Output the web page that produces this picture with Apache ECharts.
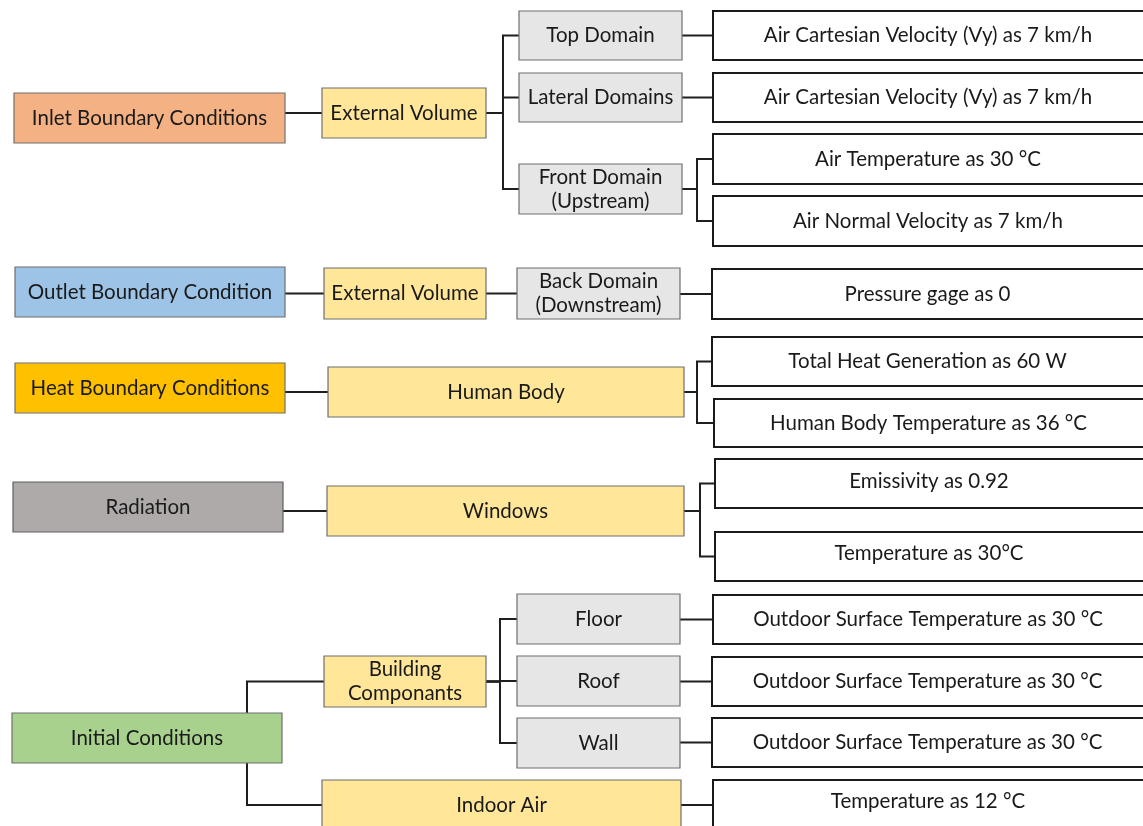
<!DOCTYPE html>
<html>
<head>
<meta charset="utf-8">
<title>Boundary conditions</title>
<script src="https://cdn.jsdelivr.net/npm/echarts@6/dist/echarts.min.js"></script>
<style>
  html, body { margin: 0; padding: 0; background: #fff; }
  #main { width: 1143px; height: 826px; }
</style>
</head>
<body>
<div id="main"></div>
<script>
// node texts, parent index and kind (the tree itself)
var nodeNames = [
  'Inlet Boundary Conditions', 'External Volume',
  'Top Domain', 'Lateral Domains', 'Front Domain\n(Upstream)',
  'Air Cartesian Velocity (Vy) as 7 km/h', 'Air Cartesian Velocity (Vy) as 7 km/h',
  'Air Temperature as 30 °C', 'Air Normal Velocity as 7 km/h',
  'Outlet Boundary Condition', 'External Volume', 'Back Domain\n(Downstream)', 'Pressure gage as 0',
  'Heat Boundary Conditions', 'Human Body',
  'Total Heat Generation as 60 W', 'Human Body Temperature as 36 °C',
  'Radiation', 'Windows', 'Emissivity as 0.92', 'Temperature as 30°C',
  'Initial Conditions', 'Building\nComponants', 'Floor', 'Roof', 'Wall',
  'Outdoor Surface Temperature as 30 °C', 'Outdoor Surface Temperature as 30 °C',
  'Outdoor Surface Temperature as 30 °C',
  'Indoor Air', 'Temperature as 12 °C'
];
var nodeParents = [
  -1, 0, 1, 1, 1, 2, 3, 4, 4,
  -1, 9, 10, 11,
  -1, 13, 14, 14,
  -1, 17, 18, 18,
  -1, 21, 22, 22, 22, 23, 24, 25,
  21, 29
];
var nodeKinds = [
  'inlet', 'volume', 'domain', 'domain', 'domain', 'value', 'value', 'value', 'value',
  'outlet', 'volume', 'domain', 'value',
  'heat', 'volume', 'value', 'value',
  'radiation', 'volume', 'value', 'value',
  'initial', 'volume', 'domain', 'domain', 'domain', 'value', 'value', 'value',
  'volume', 'value'
];

// layout: box corners [x0, y0, x1, y1] in page units
var boxes = [
  [14, 93, 285, 143], [322, 88, 486, 138],
  [519, 11, 682, 60], [519, 73, 682, 122], [519, 164, 682, 214],
  [713, 11, 1146, 60], [713, 73, 1146, 122], [713, 134, 1146, 184], [713, 196, 1146, 246],
  [15, 267, 285, 317], [324, 268, 486, 319], [517, 268, 680, 319], [712, 269, 1146, 319],
  [15, 363, 285, 413], [328, 367, 684, 417], [712, 337, 1146, 386], [714, 399, 1146, 447],
  [13, 482, 283, 532], [327, 486, 684, 536], [715, 459, 1146, 508], [715, 532, 1146, 581],
  [12, 713, 282, 763], [324, 656, 486, 707],
  [517, 594, 680, 644], [517, 656, 680, 706], [517, 718, 680, 768],
  [713, 595, 1146, 644], [712, 657, 1146, 706], [712, 718, 1146, 767],
  [322, 780, 681, 830], [713, 780, 1146, 830]
];
// x of the vertical connector for parents with several children
var junctionX = { 1: 503, 4: 697, 14: 697, 18: 700, 21: 247, 22: 500 };
// small vertical text nudges where the source text sits off-centre
var textShift = { 19: -2, 20: -3, 30: -4 };

var kindStyle = {
  inlet:     { fill: '#F4B183', stroke: '#6f6f6f', lineWidth: 1.2 },
  outlet:    { fill: '#9DC3E6', stroke: '#6f6f6f', lineWidth: 1.2 },
  heat:      { fill: '#FFC000', stroke: '#6f6f6f', lineWidth: 1.2 },
  radiation: { fill: '#AEAAAA', stroke: '#5f5f5f', lineWidth: 1.2 },
  initial:   { fill: '#A9D18E', stroke: '#6f6f6f', lineWidth: 1.2 },
  volume:    { fill: '#FFE699', stroke: '#6f6f6f', lineWidth: 1.2 },
  domain:    { fill: '#E7E6E6', stroke: '#6f6f6f', lineWidth: 1.2 },
  value:     { fill: '#FFFFFF', stroke: '#1a1a1a', lineWidth: 2 }
};

function childCount(p) {
  var n = 0;
  nodeParents.forEach(function (q) { if (q === p) n++; });
  return n;
}

var boxData = nodeNames.map(function (name, i) {
  return { value: boxes[i].concat([i]), name: name };
});
var linkData = [];
nodeParents.forEach(function (p, i) {
  if (p >= 0) linkData.push({ value: [p, i] });
});

function renderLink(params, api) {
  var p = api.value(0), c = api.value(1);
  var pb = boxes[p], cb = boxes[c];
  var cy = (cb[1] + cb[3]) / 2;
  var pts;
  if (childCount(p) === 1) {
    pts = [[pb[2], cy], [cb[0], cy]];
  } else {
    var py = (pb[1] + pb[3]) / 2;
    var jx = junctionX[p];
    pts = [[Math.min(pb[2], jx), py], [jx, py], [jx, cy], [cb[0], cy]];
  }
  return {
    type: 'polyline',
    shape: { points: pts.map(function (pt) { return api.coord(pt); }) },
    style: { stroke: '#1f1f1f', lineWidth: 2, fill: null }
  };
}

function renderBox(params, api) {
  var i = api.value(4);
  var a = api.coord([api.value(0), api.value(1)]);
  var b = api.coord([api.value(2), api.value(3)]);
  var st = kindStyle[nodeKinds[i]];
  return {
    type: 'group',
    children: [{
      type: 'rect',
      shape: { x: a[0], y: a[1], width: b[0] - a[0], height: b[1] - a[1] },
      style: { fill: st.fill, stroke: st.stroke, lineWidth: st.lineWidth }
    }, {
      type: 'text',
      style: {
        text: nodeNames[i],
        x: (a[0] + Math.min(b[0], 1143)) / 2,
        y: (a[1] + b[1]) / 2 + (textShift[i] || 0),
        align: 'center',
        verticalAlign: 'middle',
        fontFamily: 'Lato',
        fontSize: 20.5,
        lineHeight: 24,
        fill: '#1a1a1a'
      }
    }]
  };
}

var chartDom = document.getElementById('main');
var myChart = echarts.init(chartDom);
var option = {
  animation: false,
  grid: { left: 0, right: 0, top: 0, bottom: 0 },
  xAxis: { type: 'value', min: 0, max: 1143, show: false },
  yAxis: { type: 'value', min: 0, max: 826, inverse: true, show: false },
  series: [
    { type: 'custom', renderItem: renderLink, data: linkData, silent: true, z: 1 },
    { type: 'custom', renderItem: renderBox, data: boxData, silent: true, z: 2 }
  ]
};
option && myChart.setOption(option);
</script>
</body>
</html>
